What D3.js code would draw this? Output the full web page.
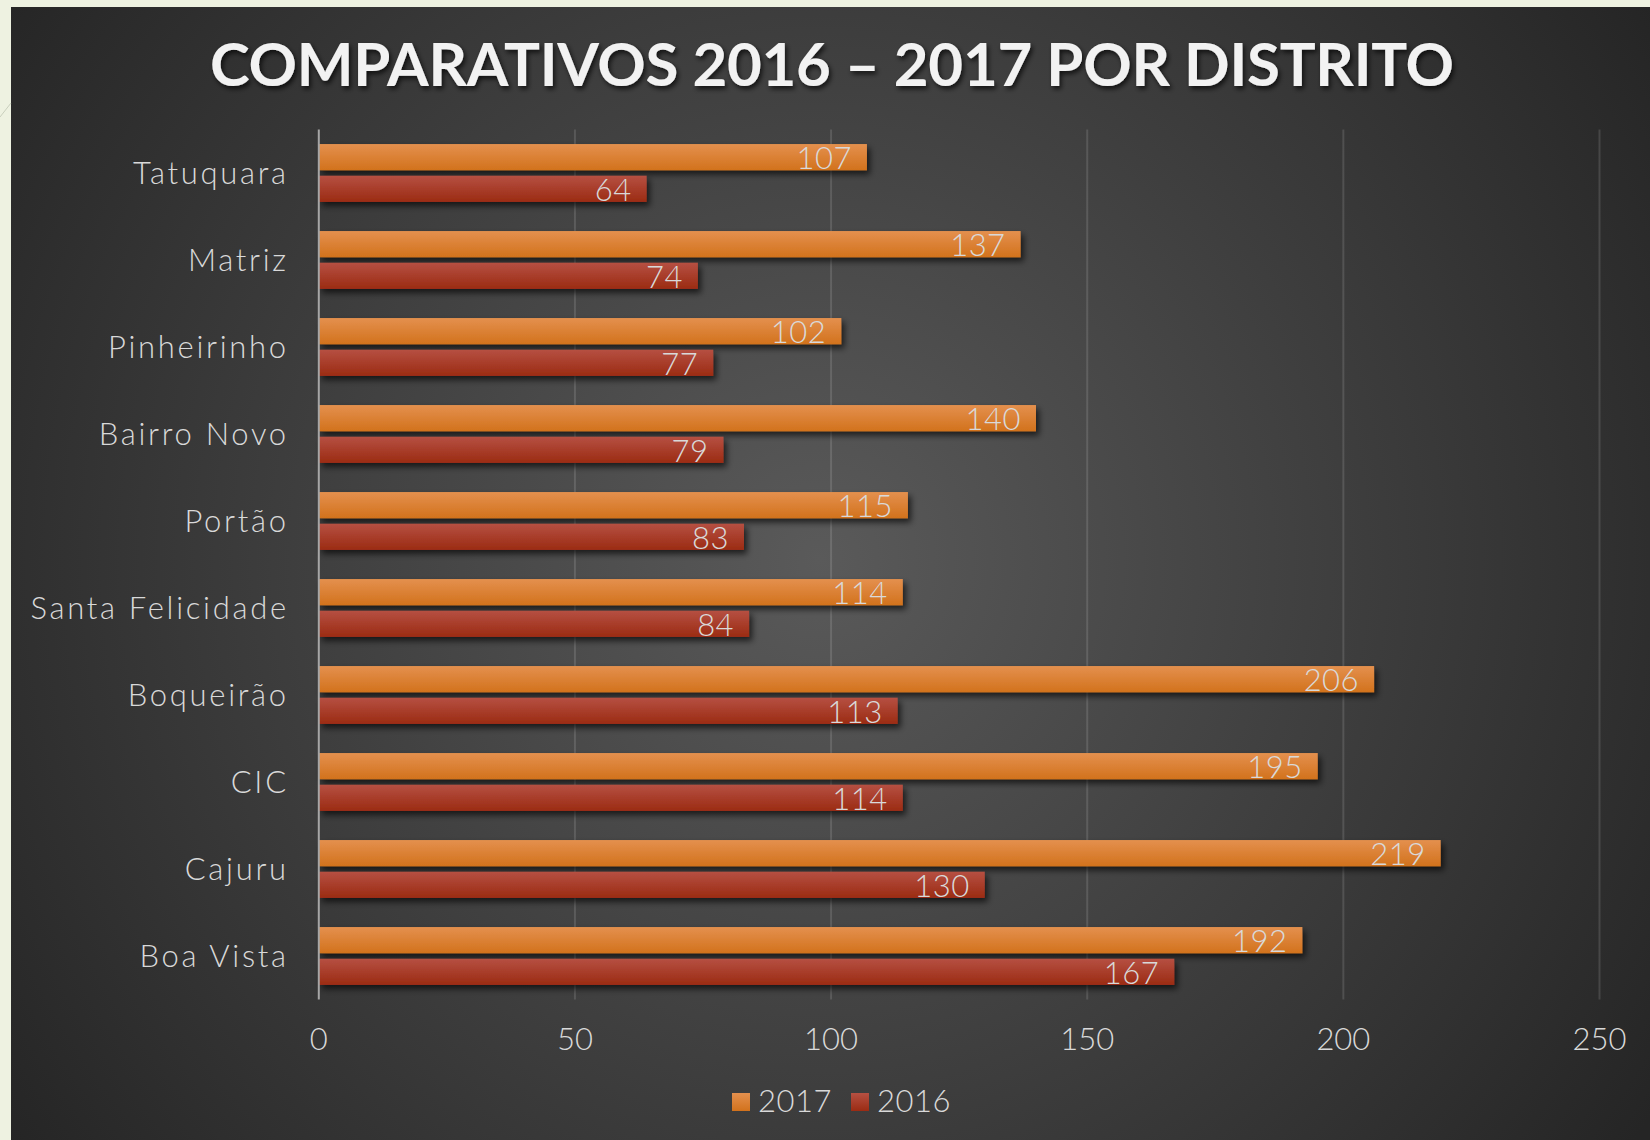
<!DOCTYPE html>
<html>
<head>
<meta charset="utf-8">
<script src="https://cdn.jsdelivr.net/npm/d3@7"></script>
<style>
  html, body { margin: 0; padding: 0; background: #eef2e1; }
  svg { display: block; }
</style>
</head>
<body>
<div id="chart"></div>
<script>
// Comparativos 2016 – 2017 por distrito — horizontal grouped bars

const categories = ['Tatuquara', 'Matriz', 'Pinheirinho', 'Bairro Novo', 'Portão',
  'Santa Felicidade', 'Boqueirão', 'CIC', 'Cajuru', 'Boa Vista'];
const values2017 = [107, 137, 102, 140, 115, 114, 206, 195, 219, 192];
const values2016 = [64, 74, 77, 79, 83, 84, 113, 114, 130, 167];
const seriesNames = ['2017', '2016'];
const xTicks = [0, 50, 100, 150, 200, 250];
const title = 'COMPARATIVOS 2016 – 2017 POR DISTRITO';

const W = 1650, H = 1140;
const FONT = 'Lato, "Open Sans", sans-serif';
const plot = { left: 318.8, right: 1599.5, top: 129.5, bottom: 999.5 };

const colors = {
  '2017': ['#e4904e', '#d2721c'],
  '2016': ['#b65042', '#9b2b13'],
};

const svg = d3.select('#chart').append('svg').attr('width', W).attr('height', H);
const defs = svg.append('defs');

// background: dark panel, lighter toward the middle
const bg = defs.append('radialGradient').attr('id', 'bg')
  .attr('gradientUnits', 'userSpaceOnUse')
  .attr('cx', 820).attr('cy', 560).attr('r', 1000);
bg.append('stop').attr('offset', 0).attr('stop-color', '#5a5a5a');
bg.append('stop').attr('offset', 1).attr('stop-color', '#252525');

seriesNames.forEach(s => {
  const g = defs.append('linearGradient').attr('id', 'g' + s)
    .attr('x1', 0).attr('y1', 0).attr('x2', 0).attr('y2', 1);
  g.append('stop').attr('offset', 0).attr('stop-color', colors[s][0]);
  g.append('stop').attr('offset', 1).attr('stop-color', colors[s][1]);
});

defs.append('filter').attr('id', 'shadow')
  .attr('x', '-5%').attr('y', '-30%').attr('width', '120%').attr('height', '180%')
  .append('feDropShadow')
  .attr('dx', 3).attr('dy', 4).attr('stdDeviation', 3)
  .attr('flood-color', '#000').attr('flood-opacity', 0.65);

defs.append('filter').attr('id', 'tshadow')
  .attr('x', '-5%').attr('y', '-30%').attr('width', '110%').attr('height', '180%')
  .append('feDropShadow')
  .attr('dx', 2).attr('dy', 3).attr('stdDeviation', 2.5)
  .attr('flood-color', '#000').attr('flood-opacity', 0.7);

svg.append('rect').attr('x', 11).attr('y', 7).attr('width', W - 11).attr('height', H - 7)
  .attr('fill', 'url(#bg)');
// thin decorative stroke on the slide margin
svg.append('line').attr('x1', 0).attr('y1', 117).attr('x2', 11).attr('y2', 103)
  .attr('stroke', '#c9cfbd').attr('stroke-width', 1);

// title
svg.append('text')
  .attr('x', 832).attr('y', 86)
  .attr('text-anchor', 'middle')
  .attr('textLength', 1244).attr('lengthAdjust', 'spacing')
  .attr('font-family', FONT).attr('font-weight', 700).attr('font-size', 60)
  .attr('fill', '#f2f2f2').attr('filter', 'url(#tshadow)')
  .text(title);

// scales
const x = d3.scaleLinear().domain([0, 250]).range([plot.left, plot.right]);
const y0 = d3.scaleBand().domain(categories).range([plot.top, plot.bottom]);
const y1 = d3.scaleBand().domain(seriesNames).range([0, y0.bandwidth()])
  .paddingInner(0.17).paddingOuter(0.46);

// gridlines
svg.append('g').selectAll('line').data(xTicks.slice(1)).join('line')
  .attr('x1', d => x(d)).attr('x2', d => x(d))
  .attr('y1', plot.top).attr('y2', plot.bottom)
  .attr('stroke', 'rgba(255,255,255,0.13)').attr('stroke-width', 2);

// x tick labels
svg.append('g').selectAll('text').data(xTicks).join('text')
  .attr('x', d => x(d)).attr('y', 1050)
  .attr('text-anchor', 'middle')
  .attr('font-family', FONT).attr('font-weight', 300).attr('font-size', 31)
  .attr('fill', '#d9d9d9')
  .text(d => d);

// bars
const rows = categories.map((c, i) => ({ cat: c, '2017': values2017[i], '2016': values2016[i] }));

const groups = svg.append('g').selectAll('g').data(rows).join('g')
  .attr('transform', d => `translate(0,${y0(d.cat)})`);

const cells = groups.selectAll('g').data(d => seriesNames.map(s => ({ s, v: d[s] }))).join('g');

cells.append('rect')
  .attr('x', x(0)).attr('y', d => y1(d.s))
  .attr('width', d => x(d.v) - x(0)).attr('height', y1.bandwidth())
  .attr('fill', d => `url(#g${d.s})`)
  .attr('filter', 'url(#shadow)');

cells.append('text')
  .attr('x', d => x(d.v) - 15)
  .attr('y', d => y1(d.s) + y1.bandwidth() - 1)
  .attr('text-anchor', 'end')
  .attr('font-family', FONT).attr('font-weight', 300).attr('font-size', 31)
  .attr('letter-spacing', 0.5)
  .attr('fill', '#d9d9d9')
  .text(d => d.v);

// category axis
svg.append('line')
  .attr('x1', x(0)).attr('x2', x(0)).attr('y1', plot.top).attr('y2', plot.bottom)
  .attr('stroke', '#a6a6a6').attr('stroke-width', 2);

svg.append('g').selectAll('text').data(categories).join('text')
  .attr('x', x(0) - 30)
  .attr('y', d => y0(d) + y0.bandwidth() / 2 + 11)
  .attr('text-anchor', 'end')
  .attr('font-family', FONT).attr('font-weight', 300).attr('font-size', 31)
  .attr('letter-spacing', 2.7)
  .attr('fill', '#d9d9d9')
  .text(d => d);

// legend
const legend = svg.append('g').attr('transform', 'translate(732,1093)');
const legendX = d3.scalePoint().domain(seriesNames).range([0, 119]);
const item = legend.selectAll('g').data(seriesNames).join('g')
  .attr('transform', d => `translate(${legendX(d)},0)`);
item.append('rect').attr('width', 18).attr('height', 18)
  .attr('fill', d => `url(#g${d})`);
item.append('text').attr('x', 26).attr('y', 19)
  .attr('font-family', FONT).attr('font-weight', 300).attr('font-size', 31)
  .attr('letter-spacing', 0.5)
  .attr('fill', '#d9d9d9')
  .text(d => d);
</script>
</body>
</html>
